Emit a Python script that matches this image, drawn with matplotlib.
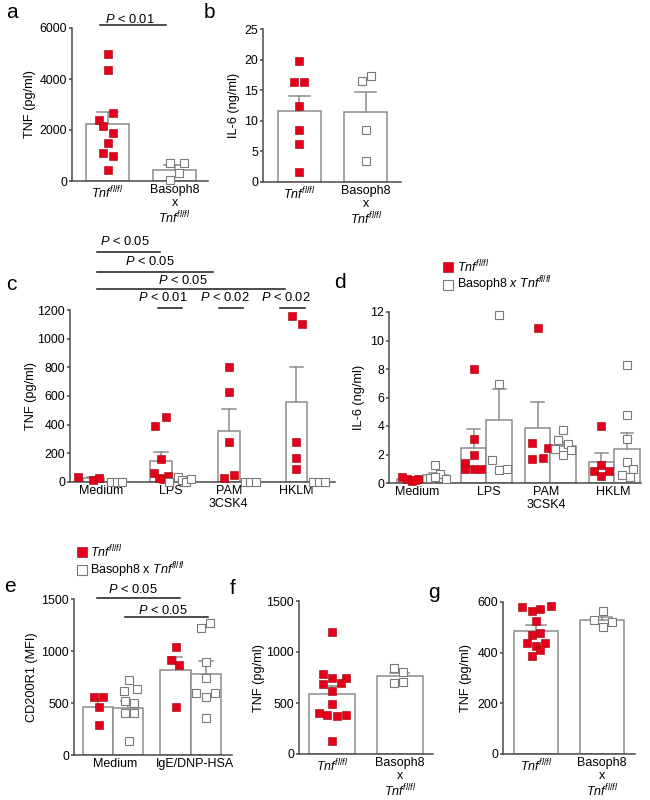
import matplotlib
matplotlib.use('Agg')
import matplotlib.pyplot as plt
from matplotlib.lines import Line2D

plt.rcParams['font.family'] = ['Liberation Sans', 'DejaVu Sans']
plt.rcParams['mathtext.fontset'] = 'custom'
plt.rcParams['mathtext.rm'] = 'Liberation Sans'
plt.rcParams['mathtext.it'] = 'Liberation Sans:italic'
plt.rcParams['mathtext.bf'] = 'Liberation Sans:bold'

W, H = 650, 800
AXIS = '#4a4a4a'
EDGE = '#8c8c8c'
RED = '#e3001b'
TNF = r'$\mathit{Tnf}^{\mathit{fl/fl}}$'
BASO = 'Basoph8\nx\n' + TNF
PLESS = r'$\mathit{P}$ < '

# panel a: TNF (pg/ml)
a_tnf = [5000, 4350, 2650, 2400, 2150, 1900, 1500, 1100, 1000, 450]
a_baso = [706, 706, 329, 28]
a_mean = [2250, 430]
a_sem = [466, 197]

# panel b: IL-6 (ng/ml)
b_tnf = [19.8, 16.3, 16.4, 12.4, 8.5, 6.2, 1.7]
b_baso = [17.3, 16.5, 8.5, 3.4]
b_mean = [11.6, 11.4]
b_sem = [2.5, 3.3]

# panels c, d: stimuli
stimuli = ['Medium', 'LPS', 'PAM\n3CSK4', 'HKLM']
c_tnf = [[37, 14, 28],
         [393, 451, 158, 65, 30, 21, 44],
         [800, 626, 277, 26, 49],
         [1158, 1105, 279, 170, 93]]
c_baso = [[0, 0, 0],
          [0, 33, 12, 3, 18],
          [0, 0, 0],
          [0, 0, 0]]
c_tnf_mean = [26, 150, 356, 558]
c_tnf_sem = [8, 62, 156, 242]
c_baso_mean = [1, 13, 2, 1]
c_baso_sem = [0, 6, 0, 0]

d_tnf = [[0.45, 0.25, 0.15, 0.3, 0.2],
         [7.98, 3.07, 1.94, 1.43, 0.96, 0.96, 0.96],
         [10.88, 2.83, 2.48, 1.71, 1.76],
         [3.98, 1.24, 0.85, 0.85, 0.47]]
d_baso = [[0.38, 1.24, 0.66, 0.26, 0.45],
          [11.77, 6.93, 1.59, 0.89, 0.96],
          [3.7, 3.05, 2.76, 2.4, 2.3, 1.97],
          [8.3, 4.8, 3.07, 1.48, 1.0, 0.56, 0.4]]
d_tnf_mean = [0.27, 2.48, 3.89, 1.48]
d_tnf_sem = [0.06, 1.34, 1.79, 0.62]
d_baso_mean = [0.55, 4.4, 2.6, 2.41]
d_baso_sem = [0.15, 2.22, 0.27, 1.1]

# panel e: CD200R1 (MFI)
e_groups = ['Medium', 'IgE/DNP-HSA']
e_tnf = [[562, 562, 466, 286], [1034, 912, 861, 466]]
e_baso = [[720, 617, 636, 498, 524, 408, 408, 138],
          [1221, 1269, 890, 736, 594, 562, 594, 357]]
e_tnf_mean = [466, 813]
e_tnf_sem = [65, 128]
e_baso_mean = [450, 777]
e_baso_sem = [70, 123]

# panel f: TNF (pg/ml)
f_tnf = [1197, 789, 747, 747, 698, 685, 616, 489, 398, 382, 372, 382, 124]
f_baso = [848, 805, 698, 704]
f_mean = [584, 763]
f_sem = [81, 33]

# panel g: TNF (pg/ml)
g_tnf = [579, 563, 574, 586, 524, 471, 478, 438, 438, 425, 412, 385]
g_baso = [563, 530, 520, 500]
g_mean = [487, 528]
g_sem = [21, 12]

# horizontal scatter of the dots inside each bar
a_jit = [[0, 0, 0.08, -0.13, -0.06, 0.08, 0, -0.06, 0.08, 0], [-0.07, 0.14, 0.065, -0.07]]
b_jit = [[0, -0.08, 0.07, 0, 0, 0, 0], [0.08, -0.06, 0, 0]]
c_jit_tnf = [[-0.23, -0.01, 0.08], [-0.09, 0.07, 0, -0.1, -0.03, 0.02, 0.1],
             [0, 0, 0, -0.07, 0.08], [-0.07, 0.08, 0, 0, 0]]
c_jit_baso = [[-0.06, 0.025, 0.11], [-0.2, -0.07, -0.015, 0.05, 0.12],
              [-0.08, 0, 0.09], [-0.07, 0.015, 0.1]]
d_jit_tnf = [[-0.13, -0.045, 0.03, 0.13, 0.075], [0, 0, 0, -0.13, -0.13, 0, 0.12],
             [0, -0.09, 0.16, -0.09, 0.08], [0, 0, -0.12, 0.12, 0]]
d_jit_baso = [[-0.09, 0, 0.07, 0.16, -0.01], [0, 0, -0.12, 0, 0.12],
              [0, -0.08, 0.075, -0.12, 0.13, 0], [0, 0, 0, 0, 0.09, -0.075, 0.04]]
e_jit_tnf = [[-0.05, 0.07, 0.01, 0.01], [0, -0.065, 0.05, 0]]
e_jit_baso = [[0.01, -0.05, 0.12, 0.07, -0.045, -0.045, 0.07, 0.01],
              [-0.06, 0.05, 0, 0, -0.125, 0, 0.12, 0]]
f_jit = [[0, -0.14, 0, 0.2, 0.13, -0.14, 0, 0, -0.2, -0.07, 0.07, 0.2, 0],
         [-0.09, 0.05, -0.09, 0.05]]
g_jit = [[-0.21, -0.06, 0.065, 0.22, 0, -0.06, 0.065, -0.13, 0.14, 0, 0.065, -0.06],
         [0.01, -0.12, 0.15, 0.01]]

fig = plt.figure(figsize=(6.5, 8), dpi=100)


def make_axes(l, t, r, b, xlim, ymax, step, ylabel, label_px):
    ax = fig.add_axes([l / W, 1 - b / H, (r - l) / W, (b - t) / H])
    for s in ['top', 'right']:
        ax.spines[s].set_visible(False)
    for s in ['left', 'bottom']:
        ax.spines[s].set_color(AXIS)
        ax.spines[s].set_linewidth(1.1)
    ax.set_xlim(*xlim)
    ax.set_ylim(0, ymax)
    ticks = [i * step for i in range(int(round(ymax / step)) + 1)]
    ax.set_yticks(ticks)
    ax.set_yticklabels([f'{t:g}' for t in ticks])
    ax.tick_params(axis='y', length=2.5, width=1.1, color=AXIS, pad=1.0, labelsize=8.9)
    ax.tick_params(axis='x', length=0, pad=2.5, labelsize=9)
    ax.set_ylabel(ylabel, fontsize=9.2, va='center')
    ax.yaxis.set_label_coords((label_px - l) / (r - l), 0.5)
    return ax


def draw_bar(ax, x, mean, sem, width, cap):
    ax.bar(x, mean, width, color='white', edgecolor=EDGE, linewidth=1.1, zorder=1)
    if sem > 0:
        ax.plot([x, x], [mean, mean + sem], color=EDGE, lw=1.1, zorder=2)
        ax.plot([x - cap, x + cap], [mean + sem, mean + sem], color=EDGE, lw=1.1, zorder=2)


def draw_points(ax, x, values, offsets, filled):
    xs = [x + o for o in offsets]
    if filled:
        ax.plot(xs, values, 's', ms=5.4, mfc=RED, mec='#a00000', mew=0.4,
                ls='none', clip_on=False, zorder=3)
    else:
        ax.plot(xs, values, 's', ms=5.4, mfc='white', mec='#7a7a7a', mew=0.8,
                ls='none', clip_on=False, zorder=3)


def bracket(ax, x1, x2, y, text, tx, ty):
    ax.plot([x1, x2], [y, y], color='#1a1a1a', lw=1.1, clip_on=False)
    ax.text(tx, ty, PLESS + text, ha='center', va='center', fontsize=9.3)


def legend(x, y, text, filled):
    if filled:
        mk = Line2D([x / W], [1 - y / H], marker='s', ms=7.5, mfc=RED, mec='#a00000',
                    mew=0.4, transform=fig.transFigure)
    else:
        mk = Line2D([x / W], [1 - y / H], marker='s', ms=7.5, mfc='white', mec='#7a7a7a',
                    mew=0.8, transform=fig.transFigure)
    fig.add_artist(mk)
    fig.text((x + 8.5) / W, 1 - y / H, text, fontsize=9, va='center', ha='left')


def two_bar_panel(ax, means, sems, tnf, baso, jit, width, cap):
    for i, (m, s) in enumerate(zip(means, sems)):
        draw_bar(ax, i, m, s, width, cap)
    draw_points(ax, 0, tnf, jit[0], True)
    draw_points(ax, 1, baso, jit[1], False)
    ax.set_xticks([0, 1])
    ax.set_xticklabels([TNF, BASO], linespacing=1.05, va='top')


def grouped_panel(ax, tnf, baso, tnf_mean, tnf_sem, baso_mean, baso_sem,
                  jit_tnf, jit_baso, half, cap):
    for i in range(len(tnf)):
        draw_bar(ax, i - half, tnf_mean[i], tnf_sem[i], 2 * half, cap)
        draw_bar(ax, i + half, baso_mean[i], baso_sem[i], 2 * half, cap)
        draw_points(ax, i - half, tnf[i], jit_tnf[i], True)
        draw_points(ax, i + half, baso[i], jit_baso[i], False)


# a
ax = make_axes(72, 28, 208, 181, (-0.53, 1.5), 6000, 2000, 'TNF (pg/ml)', 30)
two_bar_panel(ax, a_mean, a_sem, a_tnf, a_baso, a_jit, 0.64, 0.15)
bracket(ax, -0.11, 0.87, 6118, '0.01', 0.34, 6314)

# b
ax = make_axes(263, 29, 401, 182, (-0.55, 1.53), 25, 5, 'IL-6 (ng/ml)', 234)
two_bar_panel(ax, b_mean, b_sem, b_tnf, b_baso, b_jit, 0.65, 0.16)

# c
ax = make_axes(70, 310, 335, 482, (-0.506, 3.41), 1200, 200, 'TNF (pg/ml)', 31)
grouped_panel(ax, c_tnf, c_baso, c_tnf_mean, c_tnf_sem, c_baso_mean, c_baso_sem,
              c_jit_tnf, c_jit_baso, 0.159, 0.1)
ax.set_xticks([-0.04, 0.98, 1.84, 2.83])
ax.set_xticklabels(stimuli, linespacing=1.05, va='top')
bracket(ax, -0.107, 0.823, 1607, '0.05', 0.307, 1681)
bracket(ax, -0.107, 1.606, 1467, '0.05', 0.676, 1537)
bracket(ax, -0.107, 2.67, 1344, '0.05', 1.163, 1409)
bracket(ax, 0.794, 1.148, 1214, '0.01', 0.868, 1284)
bracket(ax, 1.695, 2.05, 1214, '0.02', 1.783, 1284)
bracket(ax, 2.596, 2.965, 1214, '0.02', 2.684, 1284)

# d
ax = make_axes(389, 312, 641, 483, (-0.527, 3.42), 12, 2, 'IL-6 (ng/ml)', 359)
grouped_panel(ax, d_tnf, d_baso, d_tnf_mean, d_tnf_sem, d_baso_mean, d_baso_sem,
              d_jit_tnf, d_jit_baso, 0.2, 0.1)
ax.set_xticks([-0.09, 1.04, 1.94, 2.99])
ax.set_xticklabels(stimuli, linespacing=1.05, va='top')
legend(448.5, 267, TNF, True)
legend(448.5, 284.5, r'Basoph8 $\mathit{x}$ ' + TNF, False)

# e
ax = make_axes(74, 599, 232, 755, (-0.5, 1.53), 1500, 500, 'CD200R1 (MFI)', 32)
grouped_panel(ax, e_tnf, e_baso, e_tnf_mean, e_tnf_sem, e_baso_mean, e_baso_sem,
              e_jit_tnf, e_jit_baso, 0.195, 0.085)
ax.set_xticks([0.03, 1.05])
ax.set_xticklabels(e_groups)
bracket(ax, -0.21, 0.86, 1512, '0.05', 0.26, 1587)
bracket(ax, 0.15, 1.22, 1330, '0.05', 0.64, 1394)
legend(82, 552, TNF, True)
legend(82, 570, 'Basoph8 x ' + TNF, False)

# f
ax = make_axes(299, 601, 433, 754, (-0.49, 1.49), 1500, 500, 'TNF (pg/ml)', 259)
two_bar_panel(ax, f_mean, f_sem, f_tnf, f_baso, f_jit, 0.68, 0.14)

# g
ax = make_axes(503, 602, 635, 754, (-0.5, 1.5), 600, 200, 'TNF (pg/ml)', 466)
two_bar_panel(ax, g_mean, g_sem, g_tnf, g_baso, g_jit, 0.67, 0.15)

# panel letters
for letter, x, y in [('a', 12, 13), ('b', 209, 13), ('c', 11, 284), ('d', 340, 282),
                     ('e', 10, 587), ('f', 233, 588), ('g', 434, 593)]:
    fig.text(x / W, 1 - y / H, letter, fontsize=15, ha='center', va='center')

fig.savefig('out.png', dpi=100)
plt.close(fig)
